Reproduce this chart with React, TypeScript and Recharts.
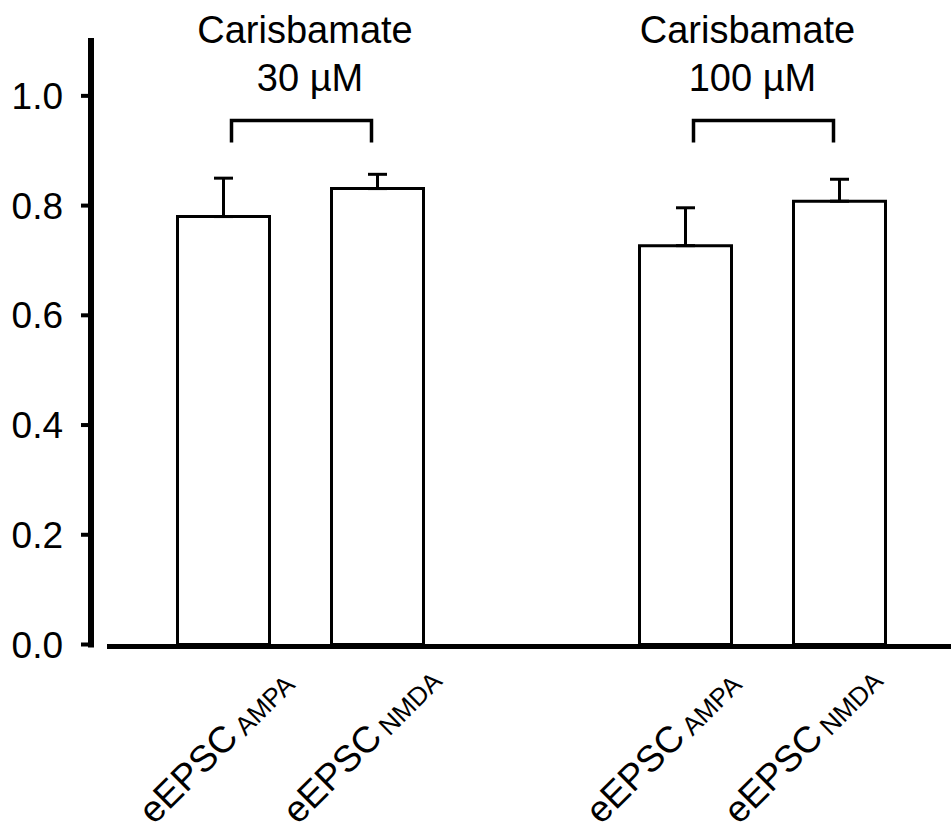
import React from 'react';
import { BarChart, Bar, XAxis, YAxis, ErrorBar, ReferenceLine } from 'recharts';

// ---- data ----
const categories = ['AMPA30', 'NMDA30', 'gap', 'AMPA100', 'NMDA100'];
const receptors = ['AMPA', 'NMDA', '', 'AMPA', 'NMDA'];
const means = [0.78, 0.831, null, 0.727, 0.808];
const sems = [0.07, 0.026, null, 0.069, 0.04];
const yTicks = [0, 0.2, 0.4, 0.6, 0.8, 1.0];
const drugName = 'Carisbamate';
const concentrations = ['30 µM', '100 µM'];
const bracketPairs = [
  ['AMPA30', 'NMDA30'],
  ['AMPA100', 'NMDA100'],
];
const bracketLevel = 0.955;

// ---- layout / style ----
const FONT = '"Liberation Sans", Arial, Helvetica, sans-serif';
const labelShift = [-69.5, -79.5, 0, -84.5, -100.5];
const titleShift = [4.5, -15];

const data = categories.map((c, i) => ({
  cat: c,
  mean: means[i],
  err: sems[i] == null ? null : [0, sems[i]],
}));

function XTick(props: any) {
  const { x, y, payload } = props;
  const i = categories.indexOf(payload.value);
  const rec = receptors[i];
  if (!rec) return null;
  return (
    <g transform={`translate(${x + labelShift[i]},${y + 181}) rotate(-45)`}>
      <text x={0} y={0} fontFamily={FONT} fontSize={37} fill="#000">
        eEPSC
        <tspan fontSize={26} dx={6} dy={2}>
          {rec}
        </tspan>
      </text>
    </g>
  );
}

const makeBracket = (g: number) => (p: any) => {
  const { x1, x2, y1 } = p;
  const a = x1 + 8;
  const b = x2 - 6;
  const mid = (x1 + x2) / 2 + titleShift[g];
  return (
    <g>
      <path
        d={`M${a},${y1 + 22} L${a},${y1} L${b},${y1} L${b},${y1 + 22}`}
        fill="none"
        stroke="#000"
        strokeWidth={3.5}
      />
      <text x={mid} y={y1 - 77.4} textAnchor="middle" fontFamily={FONT} fontSize={38} fill="#000">
        {drugName}
      </text>
      <text x={mid + 5} y={y1 - 30} textAnchor="middle" fontFamily={FONT} fontSize={38} fill="#000">
        {concentrations[g]}
      </text>
    </g>
  );
};

const xAxisLineShape = (p: any) => (
  <line x1={p.x1 + 16} y1={p.y1 + 2} x2={p.x2} y2={p.y2 + 2} stroke="#000" strokeWidth={5} />
);

export default function App() {
  return (
    <div style={{ position: 'absolute', left: 0, top: 0, width: 951, height: 830, background: '#fff' }}>
      <BarChart
        width={951}
        height={830}
        data={data}
        margin={{ top: 41, right: 0, bottom: 5.5, left: 0 }}
      >
        <XAxis
          dataKey="cat"
          type="category"
          padding={{ left: 55.5, right: 34.5 }}
          axisLine={false}
          tickLine={false}
          tickSize={0}
          tickMargin={0}
          height={180}
          interval={0}
          tick={<XTick />}
        />
        <YAxis
          type="number"
          domain={[0, 1.1]}
          ticks={yTicks}
          width={91}
          axisLine={{ stroke: '#000', strokeWidth: 6, strokeLinecap: 'square' }}
          tickLine={{ stroke: '#000', strokeWidth: 4 }}
          tickSize={10}
          tickMargin={18}
          tick={{ fill: '#000', fontSize: 37, fontFamily: FONT }}
          tickFormatter={(v: number) => v.toFixed(1)}
        />
        <Bar
          dataKey="mean"
          barSize={92}
          fill="#fff"
          stroke="#000"
          strokeWidth={3}
          isAnimationActive={false}
        >
          <ErrorBar
            dataKey="err"
            direction="y"
            width={9.5}
            stroke="#000"
            strokeWidth={3}
            isAnimationActive={false}
          />
        </Bar>
        <ReferenceLine y={0} ifOverflow="visible" shape={xAxisLineShape} />
        {bracketPairs.map((pair, g) => (
          <ReferenceLine
            key={g}
            ifOverflow="visible"
            segment={[
              { x: pair[0], y: bracketLevel },
              { x: pair[1], y: bracketLevel },
            ]}
            shape={makeBracket(g)}
          />
        ))}
      </BarChart>
    </div>
  );
}
